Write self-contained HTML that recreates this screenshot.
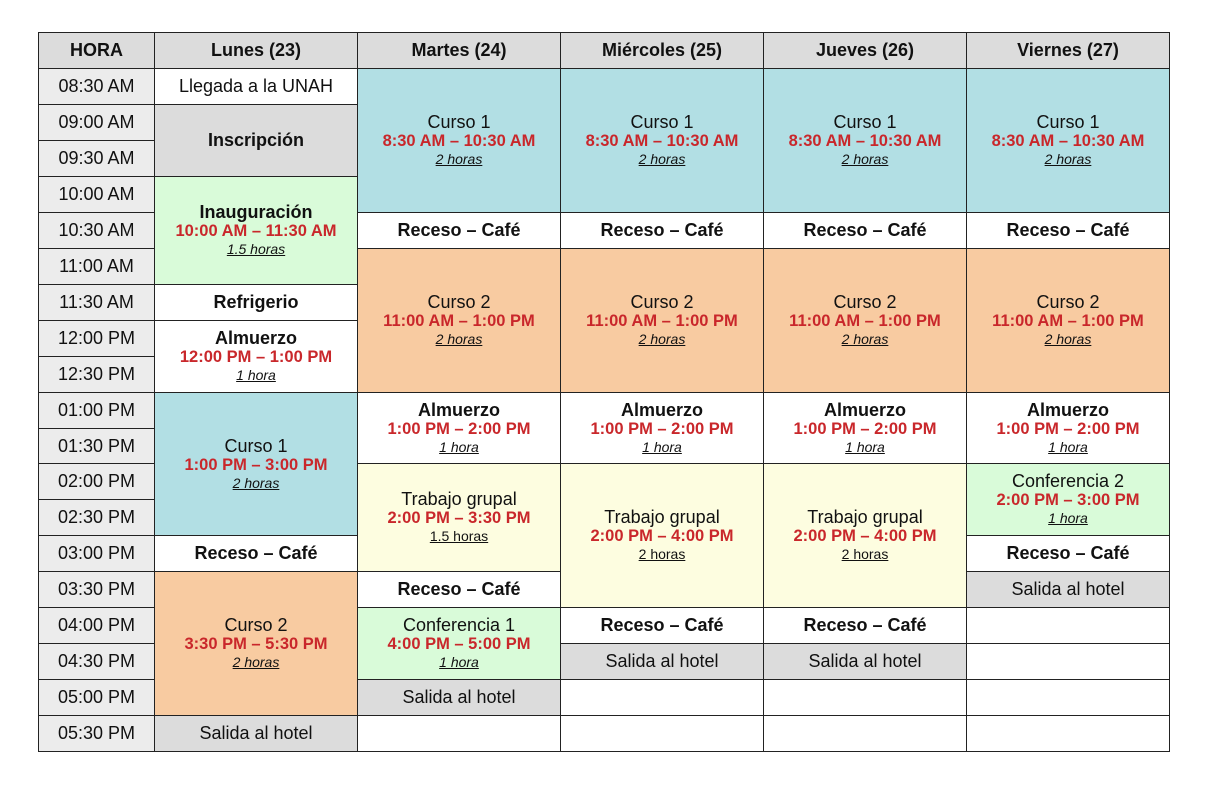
<!DOCTYPE html>
<html><head><meta charset="utf-8"><style>
body{margin:0;width:1216px;height:790px;background:#fff;font-family:"Liberation Sans",sans-serif;position:relative;overflow:hidden}
.c{position:absolute;box-sizing:border-box;border:1px solid #222;display:flex;flex-direction:column;align-items:center;justify-content:center;text-align:center;color:#111;font-size:18px;line-height:19px}
.b{font-weight:bold}
.r{color:#c9272b;font-weight:bold;font-size:16.5px;line-height:19px}
.s{font-size:14px;font-style:italic;text-decoration:underline;line-height:17px}
.n{font-size:14px;text-decoration:underline;line-height:17px}
</style></head><body>
<script>
var X=[38,154,357,560,763,966,1169];
var BG={w:'#ffffff',g:'#dcdcdc',h:'#ececec',b:'#b2dfe4',o:'#f8cba1',gr:'#d9fbd9',y:'#fdfde0'};
var out='';
function cell(col,r,span,bg,html){
 var y=r<0?32:Math.round(68+35.95*r); var y2=r<0?68:Math.round(68+35.95*(r+span));
 out+='<div class="c" style="left:'+X[col]+'px;top:'+y+'px;width:'+(X[col+1]-X[col]+1)+'px;height:'+(y2-y+1)+'px;background:'+BG[bg]+'">'+html+'</div>';
}
function ev(t,tm,d,bold,norm){return '<div'+(bold?' class="b"':'')+'>'+t+'</div><div class="r">'+tm+'</div><div class="'+(norm?'n':'s')+'">'+d+'</div>';}
var hd=['HORA','Lunes (23)','Martes (24)','Miércoles (25)','Jueves (26)','Viernes (27)'];
hd.forEach(function(t,i){cell(i,-1,1,'g','<div class="b">'+t+'</div>');});
var T=['08:30 AM','09:00 AM','09:30 AM','10:00 AM','10:30 AM','11:00 AM','11:30 AM','12:00 PM','12:30 PM','01:00 PM','01:30 PM','02:00 PM','02:30 PM','03:00 PM','03:30 PM','04:00 PM','04:30 PM','05:00 PM','05:30 PM'];
T.forEach(function(t,i){cell(0,i,1,'h',t);});
var RC='<div class="b">Receso – Café</div>';
cell(1,0,1,'w','Llegada a la UNAH');
cell(1,1,2,'g','<div class="b">Inscripción</div>');
cell(1,3,3,'gr',ev('Inauguración','10:00 AM – 11:30 AM','1.5 horas',1));
cell(1,6,1,'w','<div class="b">Refrigerio</div>');
cell(1,7,2,'w',ev('Almuerzo','12:00 PM – 1:00 PM','1 hora',1));
cell(1,9,4,'b',ev('Curso 1','1:00 PM – 3:00 PM','2 horas'));
cell(1,13,1,'w',RC);
cell(1,14,4,'o',ev('Curso 2','3:30 PM – 5:30 PM','2 horas'));
cell(1,18,1,'g','Salida al hotel');
for(var c=2;c<=5;c++){
 cell(c,0,4,'b',ev('Curso 1','8:30 AM – 10:30 AM','2 horas'));
 cell(c,4,1,'w',RC);
 cell(c,5,4,'o',ev('Curso 2','11:00 AM – 1:00 PM','2 horas'));
 cell(c,9,2,'w',ev('Almuerzo','1:00 PM – 2:00 PM','1 hora',1));
}
cell(2,11,3,'y',ev('Trabajo grupal','2:00 PM – 3:30 PM','1.5 horas',0,1));
cell(2,14,1,'w',RC);
cell(2,15,2,'gr',ev('Conferencia 1','4:00 PM – 5:00 PM','1 hora'));
cell(2,17,1,'g','Salida al hotel');
cell(2,18,1,'w','');
for(c=3;c<=4;c++){
 cell(c,11,4,'y',ev('Trabajo grupal','2:00 PM – 4:00 PM','2 horas',0,1));
 cell(c,15,1,'w',RC);
 cell(c,16,1,'g','Salida al hotel');
 cell(c,17,1,'w','');cell(c,18,1,'w','');
}
cell(5,11,2,'gr',ev('Conferencia 2','2:00 PM – 3:00 PM','1 hora'));
cell(5,13,1,'w',RC);
cell(5,14,1,'g','Salida al hotel');
for(var r=15;r<=18;r++)cell(5,r,1,'w','');
document.write(out);
</script>
</body></html>
